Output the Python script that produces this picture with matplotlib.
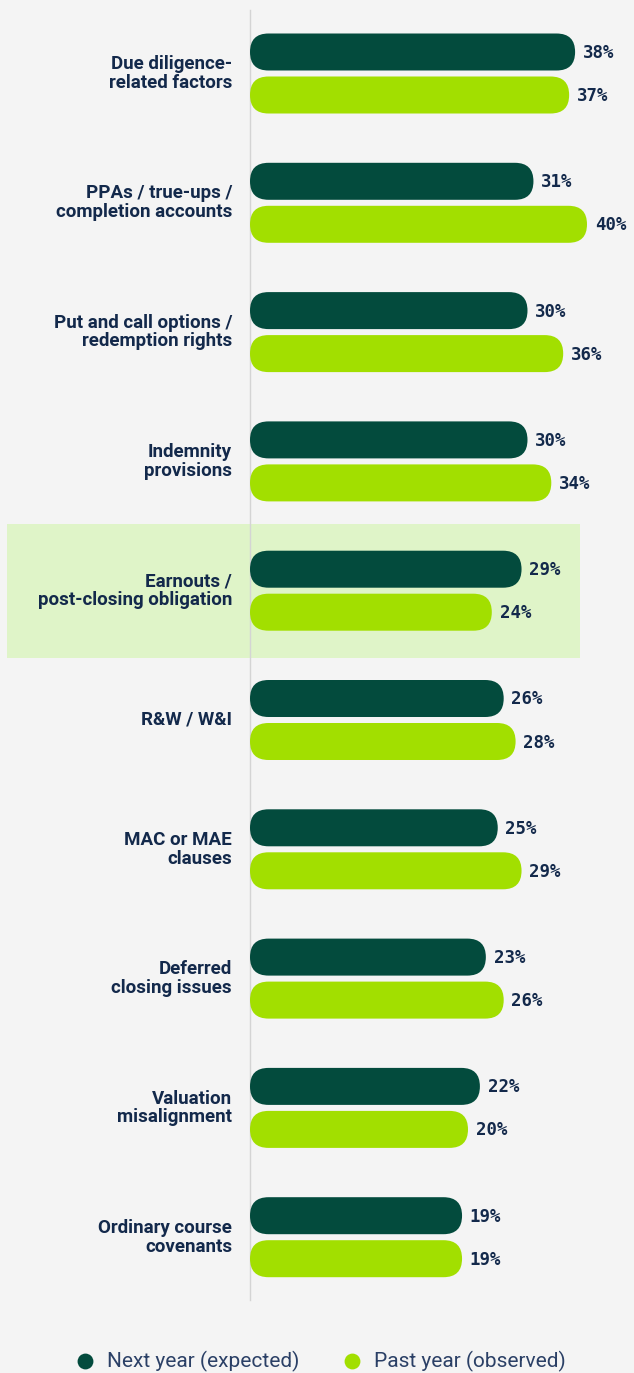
import matplotlib.pyplot as plt
from matplotlib.patches import FancyBboxPatch, Rectangle

categories = [
    "Due diligence-\nrelated factors",
    "PPAs / true-ups /\ncompletion accounts",
    "Put and call options /\nredemption rights",
    "Indemnity\nprovisions",
    "Earnouts /\npost-closing obligation",
    "R&W / W&I",
    "MAC or MAE\nclauses",
    "Deferred\nclosing issues",
    "Valuation\nmisalignment",
    "Ordinary course\ncovenants",
]
next_year = [38, 31, 30, 30, 29, 26, 25, 23, 22, 19]
past_year = [37, 40, 36, 34, 24, 28, 29, 26, 20, 19]
series_names = ["Next year (expected)", "Past year (observed)"]
highlight = 4

DARK = "#034b3d"
LIME = "#a2df00"
NAVY = "#13294b"
BG = "#f4f4f4"

W, H = 634, 1373
fig = plt.figure(figsize=(W / 100, H / 100), dpi=100, facecolor=BG)
ax = fig.add_axes([0, 0, 1, 1])
ax.set_facecolor(BG)

px_per_unit = 5.95
zero_px = 349
ax.set_xlim(-zero_px / px_per_unit, (W - zero_px) / px_per_unit)
ax.set_ylim(H, 0)
ax.axis("off")

bar_start = (250 - zero_px) / px_per_unit
bar_h = 37
r = bar_h / 2


def rounded_bar(y, v, color):
    x0 = bar_start
    w = v - bar_start
    p = FancyBboxPatch((x0, y - bar_h / 2), w, bar_h,
                       boxstyle=f"round,pad=0,rounding_size={r / px_per_unit}",
                       mutation_aspect=px_per_unit, fc=color, ec="none", zorder=3)
    ax.add_patch(p)


for i, (cat, a, b) in enumerate(zip(categories, next_year, past_year)):
    y1 = 52 + 129.3 * i
    y2 = y1 + 43
    if i == highlight:
        ax.add_patch(Rectangle(((7 - zero_px) / px_per_unit, y1 - 45),
                               573 / px_per_unit, 134, fc="#dff4c8", ec="none", zorder=1))
    rounded_bar(y1, a, DARK)
    rounded_bar(y2, b, LIME)
    ax.text(a + 1.3, y1 + 1, f"{a}%", ha="left", va="center", fontsize=12.5,
            fontweight="bold", family="DejaVu Sans Mono", color=NAVY, zorder=4)
    ax.text(b + 1.3, y2 + 1, f"{b}%", ha="left", va="center", fontsize=12.5,
            fontweight="bold", family="DejaVu Sans Mono", color=NAVY, zorder=4)
    ax.text((232 - zero_px) / px_per_unit, (y1 + y2) / 2, cat, ha="right", va="center",
            fontsize=13.5, fontweight="bold", family="Roboto", color=NAVY,
            linespacing=1.05, zorder=4)

ax.plot([bar_start, bar_start], [10, 1300], color="#d4d4d4", lw=1, zorder=2)

# legend
for lx, name, col in [(85, series_names[0], DARK), (352, series_names[1], LIME)]:
    ax.scatter([(lx - zero_px) / px_per_unit], [1361], s=130, color=col, zorder=4,
               linewidths=0)
    ax.text((lx + 22 - zero_px) / px_per_unit, 1361, name, ha="left", va="center",
            fontsize=15, fontweight="normal", family="Roboto", color="#2b4066")

fig.savefig("out.png", dpi=100, facecolor=BG)
